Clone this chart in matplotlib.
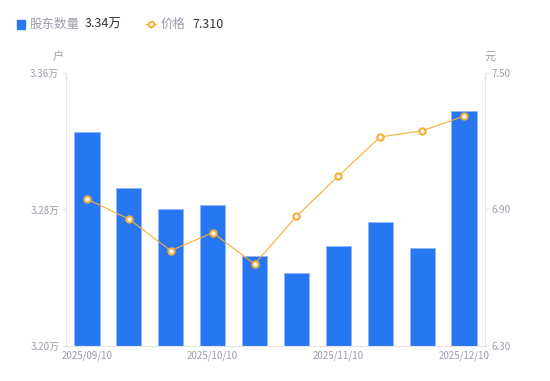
import matplotlib
matplotlib.use("Agg")
import matplotlib.pyplot as plt
from matplotlib.lines import Line2D
from matplotlib.patches import Rectangle

plt.rcParams['font.family'] = ['Noto Sans CJK SC', 'DejaVu Sans']

dates = ["2025/09/10", "2025/09/20", "2025/09/30", "2025/10/10", "2025/10/20",
         "2025/10/31", "2025/11/10", "2025/11/20", "2025/11/30", "2025/12/10"]
holders = [3.3252, 3.2924, 3.2803, 3.2825, 3.2529, 3.2426, 3.2586, 3.2727, 3.2574, 3.3376]  # 万户
price = [6.946, 6.858, 6.719, 6.798, 6.660, 6.870, 7.047, 7.219, 7.246, 7.310]
shown_ticks = [0, 3, 6, 9]
left_ticks = [3.20, 3.28, 3.36]
right_ticks = [6.30, 6.90, 7.50]

BLUE = "#2777F2"
ORANGE = "#F7AE34"
GRAY = "#9B9CAB"
AXIS = "#E3E3E8"

fig = plt.figure(figsize=(5.5, 3.81), dpi=100)
ax = fig.add_axes([0.12, 0.0919, 0.7618, 0.7165])
ax2 = ax.twinx()

x = list(range(len(dates)))
ax.bar(x, holders, width=0.6, bottom=0, color=BLUE, edgecolor="#8FB6F8", linewidth=0.6, zorder=2)
ax.set_ylim(3.20, 3.36)
ax.set_xlim(-0.5, len(dates) - 0.5)
ax.set_yticks(left_ticks)
ax.set_yticklabels([f"{t:.2f}万" for t in left_ticks])
ax.set_xticks(shown_ticks)
ax.set_xticklabels([dates[i] for i in shown_ticks])

ax2.plot(x, price, color=ORANGE, linewidth=0.8, marker="o", markersize=4.5,
         markerfacecolor="white", markeredgecolor=ORANGE, markeredgewidth=1.5, zorder=3)
ax2.set_ylim(6.30, 7.50)
ax2.set_yticks(right_ticks)
ax2.set_yticklabels([f"{t:.2f}" for t in right_ticks])

for a in (ax, ax2):
    for s in a.spines.values():
        s.set_visible(False)
ax.spines['left'].set_visible(True)
ax.spines['left'].set_color(AXIS)
ax.spines['bottom'].set_visible(True)
ax.spines['bottom'].set_color(AXIS)
ax2.spines['right'].set_visible(True)
ax2.spines['right'].set_color(AXIS)

ax.tick_params(axis='y', length=3, color=AXIS, labelcolor=GRAY, labelsize=7, pad=2)
ax.tick_params(axis='x', length=0, labelcolor=GRAY, labelsize=7, pad=3)
ax2.tick_params(axis='y', length=3, color=AXIS, labelcolor=GRAY, labelsize=7, pad=2)

# unit labels
fig.text(58 / 550, 1 - 57 / 381, "户", color=GRAY, fontsize=8, ha="center", va="center")
fig.text(490 / 550, 1 - 57 / 381, "元", color=GRAY, fontsize=8, ha="center", va="center")

# legend header
fig.patches.append(Rectangle((17 / 550, 1 - 29 / 381), 8 / 550, 9 / 381,
                             transform=fig.transFigure, color=BLUE, figure=fig))
fig.text(30 / 550, 1 - 24 / 381, "股东数量", color=GRAY, fontsize=9, va="center")
fig.text(85 / 550, 1 - 24 / 381, f"{holders[-1]:.2f}万", color="#333333", fontsize=9, va="center")
fig.lines.append(Line2D([146 / 550, 156 / 550], [1 - 24 / 381, 1 - 24 / 381], transform=fig.transFigure,
                        color=ORANGE, linewidth=1, marker="o", markevery=[0], markersize=0, figure=fig))
fig.lines.append(Line2D([151 / 550], [1 - 24 / 381], transform=fig.transFigure, color=ORANGE,
                        marker="o", markersize=4, markerfacecolor="white", markeredgewidth=1.4,
                        linestyle="none", figure=fig))
fig.text(161 / 550, 1 - 24 / 381, "价格", color=GRAY, fontsize=9, va="center")
fig.text(192 / 550, 1 - 24 / 381, f"{price[-1]:.3f}", color="#333333", fontsize=9, va="center")

fig.savefig("out.png", dpi=100)
